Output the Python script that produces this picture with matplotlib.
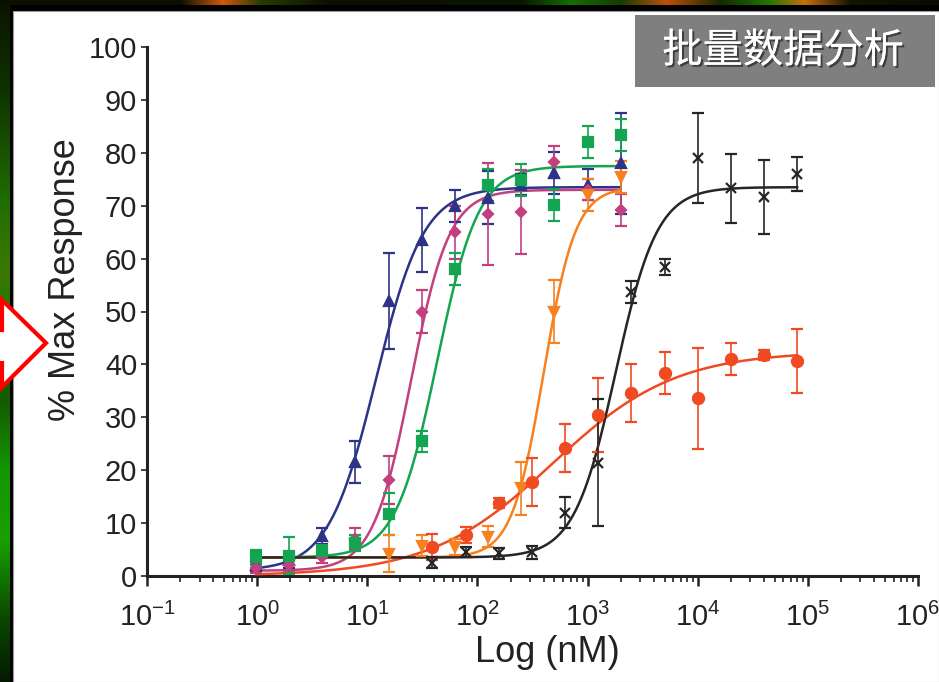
import matplotlib
matplotlib.use("Agg")
import matplotlib.pyplot as plt
import matplotlib.patheffects as pe
from matplotlib.patches import Rectangle, Polygon
from matplotlib.ticker import LogLocator, NullFormatter
import numpy as np

plt.rcParams['font.family'] = ['Liberation Sans', 'DejaVu Sans']
plt.rcParams['mathtext.default'] = 'regular'

# concentrations (nM), two-fold dilution series
conc_low = [0.98, 1.95, 3.9, 7.8, 15.6, 31.3, 62.5, 125, 250, 500, 1000, 2000]
conc_orange = [15.6, 31.3, 62.5, 125, 250, 500, 1000, 2000]
conc_high = [39, 78, 156, 312, 625, 1250, 2500, 5000, 10000, 20000, 40000, 80000]

# % max response, mean and error bar half-length
navy_y = [2.0, 3.0, 7.5, 21.5, 52.0, 63.5, 70.0, 71.5, 74.0, 76.2, 74.0, 78.0]
navy_err = [1.0, 1.5, 1.5, 4.0, 9.0, 6.0, 3.0, 5.0, 2.0, 4.0, 3.0, 9.5]
pink_y = [1.5, 2.0, 3.5, 7.0, 18.2, 50.0, 65.0, 68.4, 68.8, 78.3, 73.0, 69.2]
pink_err = [1.0, 1.0, 1.0, 2.0, 4.5, 4.0, 5.0, 9.6, 8.0, 3.0, 2.0, 3.0]
green_y = [3.5, 3.8, 4.8, 6.3, 11.7, 25.5, 58.0, 73.9, 74.9, 70.1, 82.0, 83.4]
green_err = [1.5, 3.5, 1.0, 1.5, 4.0, 2.0, 3.0, 3.0, 3.0, 3.0, 3.0, 3.0]
orange_y = [4.2, 5.7, 5.5, 7.4, 16.6, 50.0, 72.0, 75.4]
orange_err = [3.5, 2.0, 1.5, 2.0, 5.0, 6.0, 3.0, 3.0]
red_y = [5.5, 7.8, 13.8, 17.8, 24.2, 30.4, 34.6, 38.4, 33.6, 41.0, 41.8, 40.6]
red_err = [2.5, 1.5, 1.0, 4.5, 4.5, 7.0, 5.5, 4.0, 9.5, 3.0, 1.0, 6.0]
black_y = [2.5, 4.5, 4.3, 4.5, 12.0, 21.4, 53.7, 58.4, 79.0, 73.3, 71.6, 76.0]
black_err = [1.0, 1.0, 1.0, 1.2, 3.0, 12.0, 2.0, 1.5, 8.5, 6.5, 7.0, 3.3]

# 4PL fit: bottom, top, EC50 (nM), hill slope
navy_fit = (1.0, 73.5, 12, 2.0)
pink_fit = (1.0, 73.0, 25, 2.5)
green_fit = (3.5, 77.5, 43, 2.3)
orange_fit = (3.5, 73.5, 400, 3.0)
red_fit = (0.0, 42.5, 480, 0.78)
black_fit = (3.5, 73.5, 1800, 2.3)

title_text = "批量数据分析"


def logistic(x, fit):
    bottom, top, ec50, hill = fit
    return bottom + (top - bottom) / (1 + (ec50 / x) ** hill)


fig = plt.figure(figsize=(9.39, 6.82), dpi=100, facecolor='black')

# --- slide background: dark frame with glow, white panel, arrow, title box
bg = fig.add_axes([0, 0, 1, 1])
bg.set_xlim(0, 939)
bg.set_ylim(682, 0)
bg.axis('off')

ys = [0, 90, 200, 270, 300, 400, 470, 540, 620, 682]
cols = np.array([[10, 20, 0], [15, 50, 0], [30, 110, 0], [60, 120, 0], [40, 120, 0],
                 [20, 90, 0], [20, 150, 0], [25, 160, 0], [10, 70, 0], [5, 25, 0]]) / 255
yy = np.arange(682)
left_img = np.stack([np.interp(yy, ys, cols[:, k]) for k in range(3)], axis=-1)[:, None, :]
bg.imshow(left_img, extent=(0, 10, 682, 0), aspect='auto', zorder=1)

xs = [0, 180, 222, 260, 330, 520, 570, 620, 666, 720, 768, 804, 850, 939]
tcols = np.array([[10, 15, 0], [10, 15, 0], [210, 90, 10], [40, 60, 0], [10, 15, 0], [10, 20, 0],
                  [20, 110, 0], [20, 60, 0], [190, 80, 10], [20, 40, 0], [30, 120, 0],
                  [200, 110, 10], [20, 20, 0], [10, 10, 0]]) / 255
xx = np.arange(939)
top_img = np.stack([np.interp(xx, xs, tcols[:, k]) for k in range(3)], axis=-1)[None, :, :]
bg.imshow(top_img, extent=(0, 939, 5, 0), aspect='auto', zorder=1)

bg.add_patch(Rectangle((13, 11), 926, 671, facecolor='white', edgecolor='#999999',
                       lw=0.8, zorder=2))
bg.add_patch(Polygon([(-10, 330), (2, 330), (2, 300), (46, 343), (2, 387), (2, 363), (-10, 363)],
                     closed=True, facecolor='white', edgecolor='#ff0000', lw=3, zorder=3))
bg.add_patch(Rectangle((635, 15), 300, 72, facecolor='#7f7f7f', edgecolor='none', zorder=3))
bg.text(783, 51, title_text, ha='center', va='center', color='white', fontsize=29,
        family=['Noto Sans CJK SC', 'DejaVu Sans'], zorder=4,
        path_effects=[pe.withSimplePatchShadow(offset=(1.5, -1.5), shadow_rgbFace='black', alpha=0.5),
                      pe.Normal()])

# --- dose response chart
ax = fig.add_axes([147 / 939, 1 - 576 / 682, 771 / 939, 529 / 682])
ax.patch.set_alpha(0)
ax.set_xscale('log')

series = [
    (conc_low, navy_y, navy_err, navy_fit, '#2b3486', '^', 7),
    (conc_low, pink_y, pink_err, pink_fit, '#c2407e', 'D', 5),
    (conc_low, green_y, green_err, green_fit, '#13a552', 's', 7),
    (conc_orange, orange_y, orange_err, orange_fit, '#f7801f', 'v', 7),
    (conc_high, red_y, red_err, red_fit, '#f04a22', 'o', 8),
    (conc_high, black_y, black_err, black_fit, '#262626', 'x', 7),
]

for conc, y, err, fit, color, marker, ms in series:
    xc = np.logspace(np.log10(conc_low[0]), np.log10(conc[-1]), 400)
    ax.plot(xc, logistic(xc, fit), color=color, lw=1.8, zorder=3)
    ax.errorbar(conc, y, yerr=err, fmt=marker, color=color, ms=ms, mew=1.6,
                ecolor=color, elinewidth=1.2, capsize=4, capthick=1.2, zorder=4)

ax.set_xlim(0.1, 1e6)
ax.set_ylim(0, 100)
ax.set_yticks(np.arange(0, 101, 10))
ax.xaxis.set_major_locator(LogLocator(base=10, numticks=10))
ax.xaxis.set_minor_locator(LogLocator(base=10, subs=np.arange(2, 10), numticks=20))
ax.xaxis.set_minor_formatter(NullFormatter())

for side in ['top', 'right']:
    ax.spines[side].set_visible(False)
for side in ['left', 'bottom']:
    ax.spines[side].set_linewidth(2.2)
    ax.spines[side].set_color('#222222')

ax.tick_params(axis='y', which='major', direction='out', length=4, width=1.2,
               labelsize=21, pad=3, colors='#222222')
ax.tick_params(axis='x', which='major', direction='out', length=7, width=1.8,
               labelsize=21, pad=12, colors='#222222')
ax.tick_params(axis='x', which='minor', direction='out', length=4, width=1.2, colors='#222222')

ax.set_ylabel('% Max Response', fontsize=26, color='#222222')
ax.yaxis.set_label_coords(-0.083, 0.56)
ax.set_xlabel('Log (nM)', fontsize=26, color='#222222')
ax.xaxis.set_label_coords(0.519, -0.112)

fig.savefig('out.png', dpi=100, facecolor=fig.get_facecolor())
